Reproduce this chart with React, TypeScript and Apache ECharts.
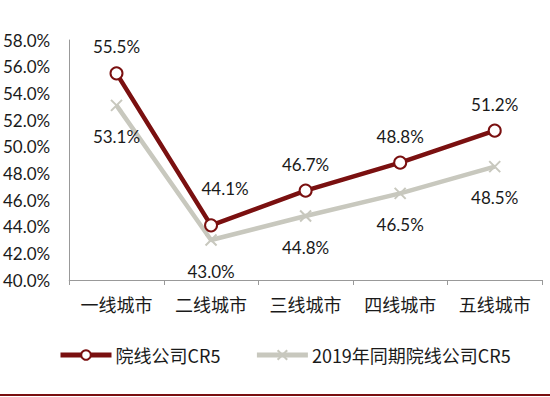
import React, { useEffect, useRef } from "react";
import * as echarts from "echarts";

const categories = ["一线城市", "二线城市", "三线城市", "四线城市", "五线城市"];
const series2020 = [55.5, 44.1, 46.7, 48.8, 51.2];
const series2019 = [53.1, 43.0, 44.8, 46.5, 48.5];
const seriesNames = ["院线公司CR5", "2019年同期院线公司CR5"];

const RED = "#7a1010";
const GRAY = "#c8c8be";
const FONT = "Lato, 'Noto Sans CJK SC', sans-serif";
const CJK = "'Noto Sans CJK SC', Lato, sans-serif";

export default function App() {
  const ref = useRef<HTMLDivElement>(null);
  useEffect(() => {
    if (!ref.current) return;
    const chart = echarts.init(ref.current, undefined, { renderer: "svg" });
    const fmt = (p: any) => Number(p.value).toFixed(1) + "%";
    chart.setOption({
      animation: false,
      backgroundColor: "#fff",
      textStyle: { fontFamily: FONT },
      grid: { left: 67, right: 8, top: 40, bottom: 117 },
      legend: {
        top: 341,
        left: 53,
        itemWidth: 51,
        itemHeight: 12,
        itemGap: 34,
        textStyle: { fontSize: 18, color: "#1a1a1a", fontFamily: CJK, padding: [0, 0, 0, -1] },
        data: [
          { name: seriesNames[0], lineStyle: { width: 5 } },
          { name: seriesNames[1], lineStyle: { width: 5 } },
        ],
      },
      xAxis: {
        type: "category",
        data: categories,
        boundaryGap: true,
        axisLine: { lineStyle: { color: "#999", width: 1 } },
        axisTick: { show: true, inside: false, length: 5, lineStyle: { color: "#999" } },
        axisLabel: { fontSize: 18, color: "#1a1a1a", margin: 15, fontFamily: CJK },
      },
      yAxis: {
        type: "value",
        min: 40,
        max: 58,
        interval: 2,
        axisLine: { show: true, lineStyle: { color: "#999", width: 1 } },
        axisTick: { show: false },
        splitLine: { show: false },
        axisLabel: {
          fontSize: 17,
          color: "#1a1a1a",
          margin: 19,
          formatter: (v: number) => v.toFixed(1) + "%",
        },
      },
      series: [
        {
          name: seriesNames[1],
          type: "line",
          data: series2019,
          symbol: "path://M0,0L10,10M10,0L0,10",
          symbolSize: 11,
          lineStyle: { color: GRAY, width: 4.5 },
          itemStyle: { color: GRAY, borderColor: GRAY, borderWidth: 2 },
          label: {
            show: true,
            position: "bottom",
            distance: 16,
            fontSize: 17,
            color: "#1a1a1a",
            formatter: fmt,
          },
          z: 2,
        },
        {
          name: seriesNames[0],
          type: "line",
          data: series2020.map((v, i) =>
            i === 1 ? { value: v, label: { offset: [14, -10] } } : v
          ),
          symbol: "circle",
          symbolSize: 12,
          showSymbol: true,
          lineStyle: { color: RED, width: 4.5 },
          itemStyle: { color: "#fff", borderColor: RED, borderWidth: 2 },
          label: {
            show: true,
            position: "top",
            distance: 11,
            fontSize: 17,
            color: "#1a1a1a",
            formatter: fmt,
          },
          z: 3,
        },
      ],
      graphic: [
        {
          type: "rect",
          left: 0,
          top: 394,
          shape: { width: 550, height: 2 },
          style: { fill: RED },
        },
      ],
    });
    return () => chart.dispose();
  }, []);
  return (
    <div
      ref={ref}
      style={{ position: "fixed", left: 0, top: 0, width: 550, height: 397 }}
    />
  );
}
